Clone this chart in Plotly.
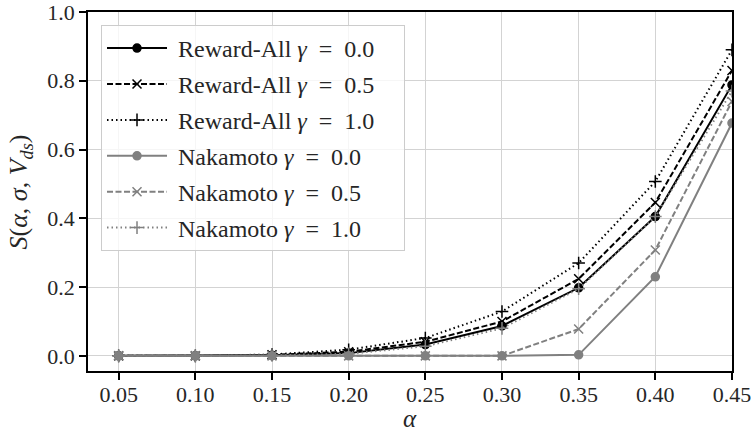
import plotly.graph_objects as go

alpha = [0.05, 0.10, 0.15, 0.20, 0.25, 0.30, 0.35, 0.40, 0.45]

ra_g00 = [0.0, 0.0, 0.002, 0.008, 0.033, 0.087, 0.198, 0.405, 0.788]
ra_g05 = [0.0, 0.0, 0.003, 0.012, 0.041, 0.100, 0.224, 0.446, 0.830]
ra_g10 = [0.0, 0.0, 0.004, 0.018, 0.052, 0.129, 0.270, 0.507, 0.890]
nk_g00 = [0.0, 0.0, 0.0, 0.0, 0.0, 0.0, 0.003, 0.230, 0.677]
nk_g05 = [0.0, 0.0, 0.0, 0.0, 0.0, 0.0, 0.078, 0.308, 0.740]
nk_g10 = [0.0, 0.0, 0.001, 0.006, 0.028, 0.080, 0.195, 0.405, 0.770]

EQ = "\u2002=\u2002"
PAD = "\u2002\u2002"
series = [
    ("\u00a0Reward-All <i>γ</i>" + EQ + "0.0" + PAD, ra_g00, "black", "solid", "circle", 8),
    ("\u00a0Reward-All <i>γ</i>" + EQ + "0.5" + PAD, ra_g05, "black", "6px,2.5px", "x-thin", 9),
    ("\u00a0Reward-All <i>γ</i>" + EQ + "1.0" + PAD, ra_g10, "black", "1.5px,3px", "cross-thin", 9),
    ("\u00a0Nakamoto <i>γ</i>" + EQ + "0.0", nk_g00, "#808080", "solid", "circle", 8),
    ("\u00a0Nakamoto <i>γ</i>" + EQ + "0.5", nk_g05, "#808080", "6px,2.5px", "x-thin", 9),
    ("\u00a0Nakamoto <i>γ</i>" + EQ + "1.0", nk_g10, "#808080", "1.5px,3px", "cross-thin", 9),
]

FONT = "Liberation Serif"
TXT = "#262626"
fig = go.Figure()
for i, (name, ys, col, dash, sym, sz) in enumerate(series):
    fig.add_trace(go.Scatter(
        x=alpha, y=ys, name=name, mode="lines+markers",
        legendgroup=f"g{i}",
        line=dict(color=col, width=2, dash=dash),
        marker=dict(color=col, symbol=sym, size=sz,
                    line=dict(color=col, width=1.5)),
    ))

axis_common = dict(
    showline=True, linecolor="black", linewidth=1.5, mirror=True,
    ticks="outside", ticklen=7, tickwidth=1.5, tickcolor="black",
    showgrid=True, gridcolor="#d3d3d3", gridwidth=1, zeroline=False,
    tickfont=dict(family=FONT, size=22, color=TXT),
    automargin=False, ticklabeloverflow="allow",
)

fig.update_layout(
    width=753, height=434,
    margin=dict(l=88, r=21, t=12, b=63),
    paper_bgcolor="white", plot_bgcolor="white",
    font=dict(family=FONT, color=TXT),
    xaxis=dict(range=[0.03, 0.45001], tickvals=alpha, tickformat=".2f",
               ticklabelstandoff=-4, **axis_common),
    yaxis=dict(range=[-0.044, 1.0], tickvals=[0, 0.2, 0.4, 0.6, 0.8, 1.0], tickformat=".1f",
               **axis_common),
    legend=dict(x=0.0202, y=0.9638, xanchor="left", yanchor="top",
                bgcolor="rgba(255,255,255,0.8)", bordercolor="#cccccc", borderwidth=1,
                font=dict(family=FONT, size=24, color=TXT),
                traceorder="grouped", tracegroupgap=1.7, itemwidth=60),
    showlegend=True,
    annotations=[
        dict(text="<i>α</i>", xref="paper", yref="paper", x=0.5, y=-0.1755,
             xanchor="center", yanchor="bottom", showarrow=False,
             font=dict(family=FONT, size=25, color=TXT)),
        dict(text="<i>S</i>(<i>α</i>, <i>σ</i>, <i>V</i><sub><i>ds</i></sub>)",
             xref="paper", yref="paper", x=-0.1056, y=0.5, textangle=-90,
             xanchor="center", yanchor="middle", showarrow=False,
             font=dict(family=FONT, size=26, color=TXT)),
    ],
)

fig.write_html("out.html")
